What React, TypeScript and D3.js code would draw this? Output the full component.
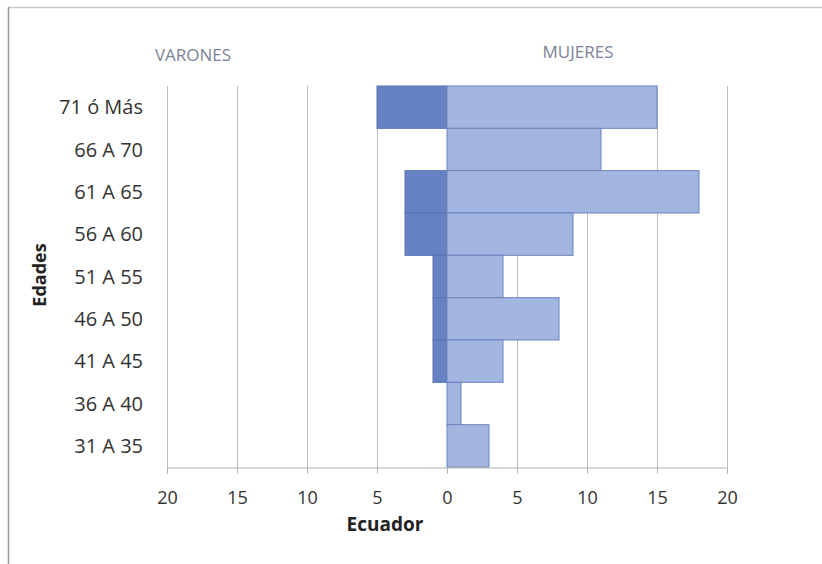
import * as d3 from "d3";
import { useEffect, useRef } from "react";

const ageGroups = ["71 ó Más", "66 A 70", "61 A 65", "56 A 60", "51 A 55", "46 A 50", "41 A 45", "36 A 40", "31 A 35"];
const varones = [5, 0, 3, 3, 1, 1, 1, 0, 0];
const mujeres = [15, 11, 18, 9, 4, 8, 4, 1, 3];
const tickValues = [-20, -15, -10, -5, 0, 5, 10, 15, 20];

const App = () => {
  const ref = useRef<SVGSVGElement>(null);

  useEffect(() => {
    const svg = d3.select(ref.current);
    svg.selectAll("*").remove();
    const width = 822;
    const height = 564;
    const font = "'Open Sans', 'Liberation Sans', sans-serif";

    const x = d3.scaleLinear().domain([-20, 20]).range([167, 727]);
    const y = d3.scaleBand().domain(ageGroups).range([86, 467]).padding(0);

    // outer frame
    svg.append("line").attr("x1", 8).attr("x2", width).attr("y1", 7.5).attr("y2", 7.5)
      .attr("stroke", "#c8c8c8").attr("stroke-width", 1.5);
    svg.append("line").attr("x1", 8.5).attr("x2", 8.5).attr("y1", 7).attr("y2", height)
      .attr("stroke", "#9a9a9a").attr("stroke-width", 1.5);

    // gridlines
    svg.append("g")
      .selectAll("line")
      .data(tickValues.filter((d) => d !== 0))
      .enter()
      .append("line")
      .attr("x1", (d) => x(d) + 0.5)
      .attr("x2", (d) => x(d) + 0.5)
      .attr("y1", 86)
      .attr("y2", 467)
      .attr("stroke", "#bdbdbd")
      .attr("stroke-width", 1);

    const rows = ageGroups.map((g, i) => ({ g, m: varones[i], f: mujeres[i] }));

    // varones
    svg.append("g")
      .selectAll("rect")
      .data(rows.filter((d) => d.m > 0))
      .enter()
      .append("rect")
      .attr("x", (d) => x(-d.m))
      .attr("y", (d) => y(d.g)!)
      .attr("width", (d) => x(0) - x(-d.m))
      .attr("height", y.bandwidth())
      .attr("fill", "#6682c2")
      .attr("stroke", "#5673b3")
      .attr("stroke-width", 1);

    // mujeres
    svg.append("g")
      .selectAll("rect")
      .data(rows)
      .enter()
      .append("rect")
      .attr("x", x(0))
      .attr("y", (d) => y(d.g)!)
      .attr("width", (d) => x(d.f) - x(0))
      .attr("height", y.bandwidth())
      .attr("fill", "#a3b6e1")
      .attr("stroke", "#6a84be")
      .attr("stroke-width", 1);

    // x axis
    const xAxis = d3.axisBottom(x)
      .tickValues(tickValues)
      .tickFormat((d) => String(Math.abs(d as number)))
      .tickSize(6)
      .tickPadding(18);
    const gx = svg.append("g").attr("transform", "translate(0,467.5)").call(xAxis);
    gx.select(".domain").attr("stroke", "#b0b0b0");
    gx.selectAll(".tick line").attr("stroke", "#b0b0b0");
    gx.selectAll(".tick text")
      .attr("font-family", font)
      .attr("font-size", 18)
      .attr("fill", "#333");

    // category labels
    svg.append("g")
      .selectAll("text")
      .data(ageGroups)
      .enter()
      .append("text")
      .attr("x", 143)
      .attr("y", (d) => y(d)! + y.bandwidth() / 2)
      .attr("dy", "0.36em")
      .attr("text-anchor", "end")
      .attr("font-family", font)
      .attr("font-size", 20)
      .attr("fill", "#333")
      .text((d) => d);

    svg.append("text")
      .attr("transform", "translate(46,275) rotate(-90)")
      .attr("text-anchor", "middle")
      .attr("font-family", font)
      .attr("font-size", 18)
      .attr("font-weight", "bold")
      .attr("fill", "#222")
      .text("Edades");

    svg.append("text")
      .attr("x", 385)
      .attr("y", 531)
      .attr("text-anchor", "middle")
      .attr("font-family", font)
      .attr("font-size", 19)
      .attr("font-weight", "bold")
      .attr("fill", "#222")
      .text("Ecuador");

    svg.append("text")
      .attr("x", 193)
      .attr("y", 61)
      .attr("text-anchor", "middle")
      .attr("font-family", font)
      .attr("font-size", 17)
      .attr("fill", "#7b8497")
      .text("VARONES");

    svg.append("text")
      .attr("x", 578)
      .attr("y", 58)
      .attr("text-anchor", "middle")
      .attr("font-family", font)
      .attr("font-size", 17)
      .attr("fill", "#7b8497")
      .text("MUJERES");
  }, []);

  return (
    <svg
      ref={ref}
      width={822}
      height={564}
      style={{ position: "absolute", left: 0, top: 0, background: "#fff" }}
    ></svg>
  );
};

export default App;
